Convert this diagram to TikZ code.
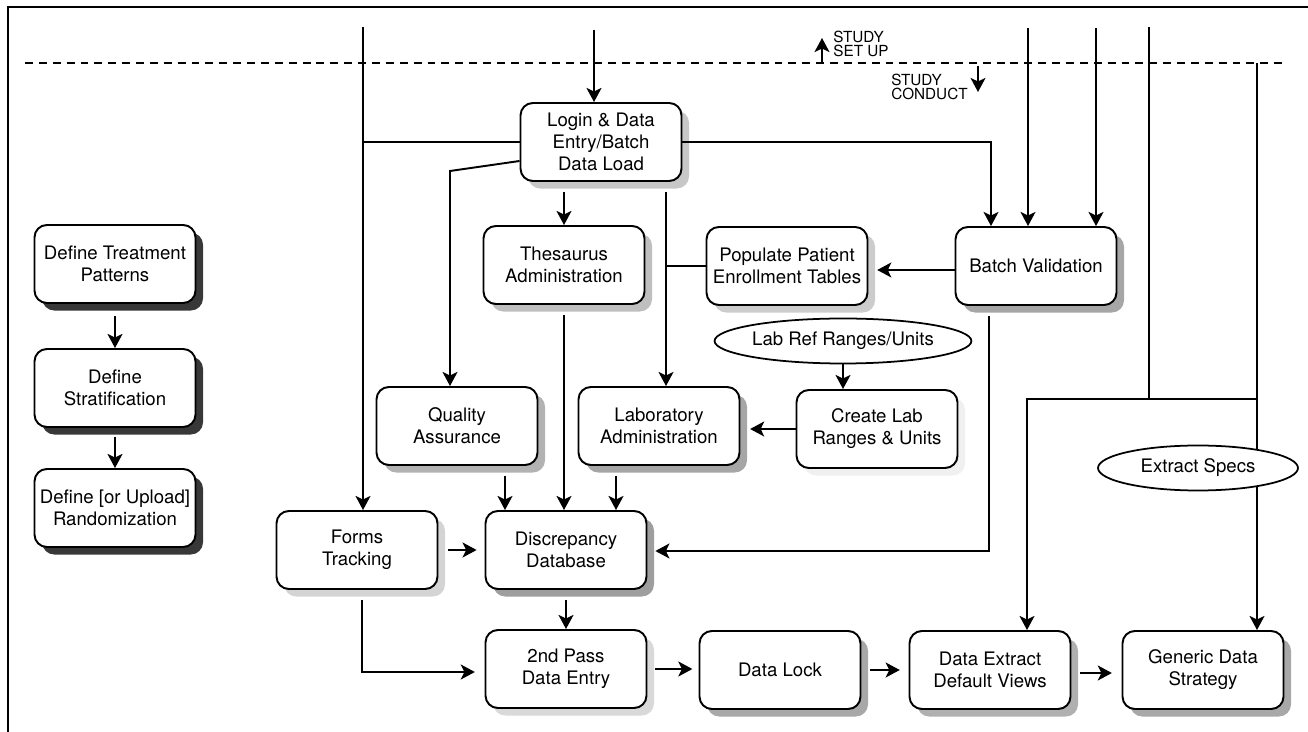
\documentclass[tikz,border=0pt]{standalone}
\usepackage{fontspec}
\setmainfont{TeX Gyre Heros}
\usetikzlibrary{shapes.geometric,shadows,arrows.meta,calc}
\begin{document}
\begin{tikzpicture}[x=0.02cm,y=-0.02cm,
  ln/.style={line width=1.1pt},
  arr/.style={ln,-{Stealth[length=8pt,width=8.5pt,inset=2pt]}},
  gap/.style={shorten <=#1},
  tgap/.style={shorten >=#1},
  sh/.style={drop shadow={shadow xshift=4.3pt,shadow yshift=-4.3pt,fill=#1,opacity=1}},
  box/.style={draw,line width=1.1pt,rounded corners=7pt,fill=white,
    minimum width=3.22cm,minimum height=1.56cm,align=center,inner sep=2pt,
    font=\fontsize{10.6}{12.5}\selectfont},
  oval/.style={draw,ellipse,line width=1pt,fill=white,minimum width=4cm,
    minimum height=0.9cm,inner sep=0pt,font=\fontsize{10.6}{12.5}\selectfont},
  lbl/.style={anchor=base west,align=left,inner sep=0pt,
    font=\fontsize{8.7}{8}\selectfont}
]
\useasboundingbox (0,0) rectangle (1308,732);
% frame
\draw[line width=1.4pt] (8,732) -- (8,7) -- (1308,7);
% dashed divider
\draw[line width=1pt,dash pattern=on 4.5pt off 3.4pt] (25,63) -- (1282,63);

% study labels
\node[lbl] (setup) at (833,57) {STUDY\\SET UP};
\node[lbl] (conduct) at (891,100) {STUDY\\CONDUCT};
\coordinate (upA) at (822,63);
\coordinate (upB) at (822,38);
\coordinate (dnA) at (978,66);
\coordinate (dnB) at (978,92);
\draw[arr] (upA) -- (upB);
\draw[arr] (dnA) -- (dnB);

% boxes
\node[box,sh=black!22] (login) at (601,142) {Login \& Data\\Entry/Batch\\Data Load};
\node[box,sh=black!25] (thes) at (564,265) {Thesaurus\\Administration};
\node[box,sh=black!20] (pop) at (787,266) {Populate Patient\\Enrollment Tables};
\node[box,sh=black!35] (bv) at (1036,266) {Batch Validation};
\node[box,sh=black!6] (create) at (877,429) {Create Lab\\Ranges \& Units};
\node[box,sh=black!30] (qa) at (457,426) {Quality\\Assurance};
\node[box,sh=black!35] (lab) at (659,426) {Laboratory\\Administration};
\node[box,sh=black!17] (forms) at (357,550) {Forms\\Tracking};
\node[box,sh=black!38] (disc) at (566,550) {Discrepancy\\Database};
\node[box,sh=black!15] (second) at (566,669) {2nd Pass\\Data Entry};
\node[box,sh=black!34] (lock) at (780,670) {Data Lock};
\node[box,sh=black!31] (dext) at (990,670) {Data Extract\\Default Views};
\node[box,sh=black!34] (gen) at (1203,670) {Generic Data\\Strategy};
\node[box,sh=black!78] (dtp) at (115,264) {Define Treatment\\Patterns};
\node[box,sh=black!78] (dstr) at (115,388) {Define\\Stratification};
\node[box,sh=black!78] (drand) at (115,508) {Define [or Upload]\\Randomization};
\node[oval] (labref) at (843,341) {Lab Ref Ranges/Units};

% free ends and junctions
\coordinate (t1) at (363,27);
\coordinate (t2) at (594,30);
\coordinate (t3) at (1028,28);
\coordinate (t4) at (1096,28);
\coordinate (t5) at (1149,27);
\coordinate (t6) at (1257,63);
\coordinate (qaj) at (450,171);
\coordinate (bvj) at (991,142);
\coordinate (labx) at (666,181);
\coordinate (bvd) at (989,551);
\coordinate (ftj) at (362,672);
\coordinate (hL) at (1027,399);
\coordinate (hR) at (1257,399);
\coordinate (qax) at (505,465);
\coordinate (labd) at (616,465);
\coordinate (lgw) at ($(login.west)+(0,19)$);
\coordinate (bvw) at ($(bv.west)+(0,4)$);
\coordinate (dxe) at ($(dext.east)+(0,3)$);

% connectors
\draw[arr] (t1) -- (t1 |- forms.north);
\draw[ln] (login.west) -- (login.west -| t1);
\draw[arr] (t2) -- (t2 |- login.north);
\draw[arr] (lgw) -- (qaj) -- (qaj |- qa.north);
\draw[arr,gap=6pt] (thes.north |- login.south) -- (thes.north);
\draw[arr] (login.east) -- (bvj) -- (bvj |- bv.north);
\draw[arr,gap=6pt] (labx) -- (labx |- lab.north);
\draw[ln] (pop.west) -- (pop.west -| labx);
\draw[arr,tgap=5pt] (bvw) -- (bvw -| pop.east);
\draw[arr] (t3) -- (t3 |- bv.north);
\draw[arr] (t4) -- (t4 |- bv.north);
\draw[arr] (labref.south) -- (labref.south |- create.north);
\draw[arr,tgap=5.5pt] (create.west) -- (create.west -| lab.east);
\draw[arr,gap=6pt,tgap=4.5pt] (bvd |- bv.south) -- (bvd) -- (bvd -| disc.east);
\draw[arr,gap=6pt] (thes.south) -- (thes.south |- disc.north);
\draw[arr,gap=6pt] (qax) -- (qax |- disc.north);
\draw[arr,gap=6pt] (labd) -- (labd |- disc.north);
\draw[arr,gap=5.5pt,tgap=4.5pt] (forms.east) -- (forms.east -| disc.west);
\draw[arr,gap=6pt] (disc.south) -- (disc.south |- second.north);
\draw[arr,gap=6pt,tgap=5.5pt] (ftj |- forms.south) -- (ftj) -- (ftj -| second.west);
\draw[arr,gap=4.5pt,tgap=3.5pt] (second.east) -- (second.east -| lock.west);
\draw[arr,gap=5pt,tgap=5pt] (lock.east) -- (lock.east -| dext.west);
\draw[arr,gap=5pt,tgap=5.5pt] (dxe) -- (dxe -| gen.west);
\draw[ln] (t5) -- (t5 |- hL);
\draw[arr] (hR) -- (hL) -- (hL |- dext.north);
\draw[arr] (t6) -- (t6 |- gen.north);
\draw[arr,gap=7pt] (dtp.south) -- (dstr.north);
\draw[arr,gap=5pt] (dstr.south) -- (drand.north);

\node[oval] (specs) at (1198,468) {Extract Specs};
\end{tikzpicture}
\end{document}
